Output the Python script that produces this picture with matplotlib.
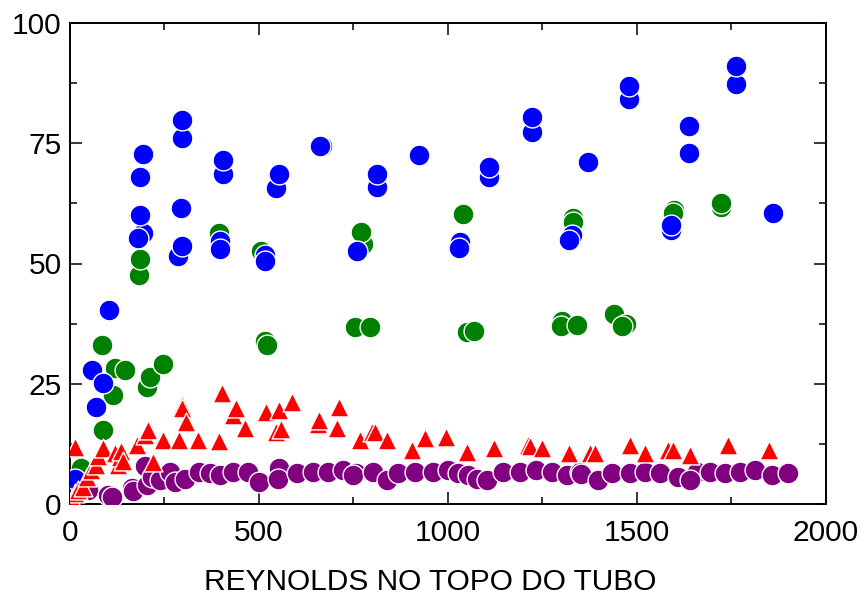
import matplotlib
matplotlib.use("Agg")
import matplotlib.pyplot as plt
from matplotlib.ticker import MultipleLocator

plt.rcParams['font.family'] = ['Liberation Sans', 'DejaVu Sans']

green_x = [28, 85, 86, 114, 118, 146, 182, 185, 204, 212, 245, 398, 393, 505, 516, 520,
           754, 794, 775, 770, 1040, 1050, 1070, 1302, 1300, 1340, 1331, 1330, 1439, 1470, 1461,
           1597, 1595, 1722, 1721]
green_y = [7.4, 33.0, 15.4, 22.7, 28.2, 27.9, 47.6, 50.9, 24.4, 26.5, 29.1, 55.0, 56.3, 52.5, 33.8, 33.0,
           36.7, 36.9, 54.0, 56.6, 60.2, 35.8, 36.0, 38.0, 37.0, 37.2, 59.5, 58.7, 39.6, 37.5, 37.0,
           61.1, 60.5, 61.8, 62.5]

blue_x = [13, 57, 68, 86, 104, 194, 181, 185, 185, 192, 285, 295, 294, 295, 296,
          396, 397, 406, 406, 517, 515, 545, 553, 666, 662, 758, 811, 811, 923,
          1031, 1030, 1109, 1109, 1221, 1221, 1327, 1321, 1371, 1480, 1480,
          1591, 1591, 1638, 1638, 1762, 1762, 1861]
blue_y = [5.3, 27.9, 20.2, 25.1, 40.3, 56.3, 55.4, 60.1, 68.0, 72.7, 51.6, 53.7, 61.5, 76.0, 79.8,
          54.6, 53.0, 68.7, 71.5, 51.8, 50.5, 65.8, 68.7, 74.5, 74.5, 52.6, 66.0, 68.7, 72.6,
          54.5, 53.2, 68.0, 70.1, 77.4, 80.5, 56.0, 54.9, 71.2, 84.3, 86.9,
          57.0, 58.1, 73.0, 78.6, 87.3, 91.1, 60.6]

purple_x = [48, 101, 110, 163, 167, 198, 205, 216, 238, 264, 278, 304, 340, 370, 397, 432,
            472, 501, 553, 551, 600, 644, 683, 723, 757, 750, 802, 838, 868, 913, 961, 1001,
            1027, 1053, 1076, 1102, 1146, 1190, 1234, 1274, 1314, 1349, 1351, 1398, 1433,
            1481, 1521, 1561, 1609, 1658, 1640, 1693, 1733, 1772, 1812, 1856, 1900]
purple_y = [2.9, 1.9, 1.5, 3.3, 2.6, 7.8, 4.0, 5.7, 5.0, 6.7, 4.6, 5.3, 6.7, 6.4, 6.0, 6.7,
            6.7, 4.6, 7.4, 5.3, 6.4, 6.7, 6.7, 7.1, 6.4, 6.0, 6.7, 5.0, 6.4, 6.7, 6.7, 7.1,
            6.4, 6.0, 5.3, 5.0, 6.7, 6.7, 7.1, 6.7, 6.0, 6.7, 6.2, 5.0, 6.4,
            6.4, 6.7, 6.4, 5.7, 6.7, 5.0, 6.7, 6.4, 6.7, 7.1, 6.0, 6.4]

red_x = [5, 13, 13, 20, 35, 44, 55, 70, 75, 88, 120, 128, 132, 136, 140, 176, 198, 207, 219,
         247, 288, 297, 295, 307, 338, 394, 403, 430, 438, 464, 518, 544, 553, 557, 588,
         655, 660, 712, 706, 767, 800, 807, 838, 906, 939, 994, 1049, 1122, 1211, 1218,
         1248, 1321, 1376, 1389, 1481, 1521, 1583, 1596, 1640, 1741, 1850]
red_y = [1.0, 11.9, 2.2, 3.0, 3.6, 5.7, 7.0, 8.1, 10.0, 11.6, 10.5, 8.1, 9.8, 11.0, 9.0, 12.3, 14.3, 15.4, 8.8,
         13.3, 13.3, 20.6, 19.9, 17.1, 13.3, 13.0, 23.0, 18.5, 19.9, 15.9, 19.2, 15.0, 19.5, 15.6, 21.3,
         16.6, 17.5, 20.2, 15.7, 13.3, 15.0, 15.0, 13.3, 11.2, 13.7, 14.0, 10.9, 11.6, 12.3, 12.0,
         11.6, 10.5, 10.5, 10.5, 12.3, 10.5, 11.2, 11.2, 10.2, 12.3, 11.2]

x_ticks = [0, 500, 1000, 1500, 2000]
y_ticks = [0, 25, 50, 75, 100]
x_label = "REYNOLDS NO TOPO DO TUBO"

fig = plt.figure(figsize=(8.62, 5.97), dpi=100)
ax = fig.add_axes([70/862, 1 - 504/597, 756/862, 481/597])

kw = dict(s=225, edgecolors='white', linewidths=1.0)
ax.scatter(green_x, green_y, c='#008000', marker='o', zorder=2, **kw)
ax.scatter(blue_x, blue_y, c='#0000FF', marker='o', zorder=3, **kw)
ax.scatter(purple_x, purple_y, c='#800080', marker='o', zorder=4, **kw)
ax.scatter(red_x, red_y, c='#FF0000', marker='^', s=185, edgecolors='white', linewidths=1.0, zorder=5)

ax.set_xlim(0, 2000)
ax.set_ylim(0, 100)
ax.set_xticks(x_ticks)
ax.set_yticks(y_ticks)
ax.set_xticklabels([str(v) for v in x_ticks])
ax.set_yticklabels([str(v) for v in y_ticks])
ax.xaxis.set_minor_locator(MultipleLocator(250))
ax.yaxis.set_minor_locator(MultipleLocator(12.5))
ax.tick_params(which='both', direction='in', top=True, right=True, width=1.1, color='black')
ax.tick_params(which='major', length=8.5, labelsize=21.5, pad=6)
ax.tick_params(axis='x', which='major', pad=11)
ax.tick_params(which='minor', length=5.3)
for sp in ax.spines.values():
    sp.set_linewidth(1.4)

fig.text(430/862, 1/597, x_label, ha='center', va='bottom', fontsize=21.5)

fig.savefig('out.png', dpi=100)
